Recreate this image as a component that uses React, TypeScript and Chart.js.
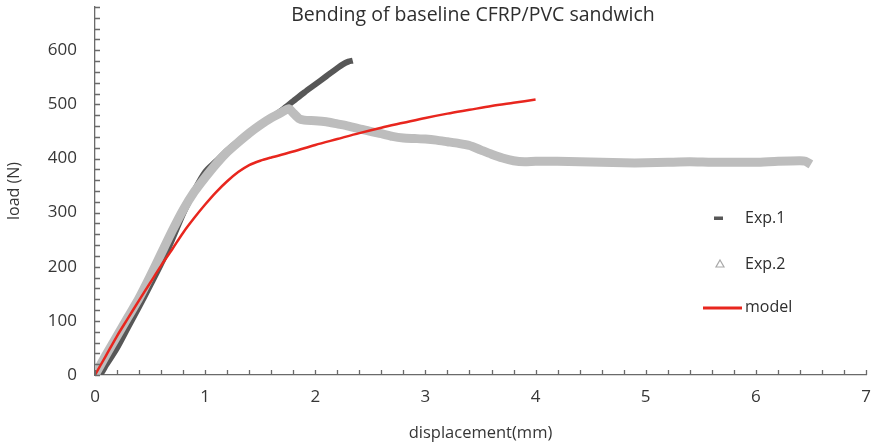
import React, { useEffect, useRef } from "react";
import { Chart, registerables } from "chart.js";

Chart.register(...registerables);

// ---- data ----
const exp1X = [0, 0.05, 0.1, 0.2, 0.3, 0.4, 0.5, 0.6, 0.7, 0.8, 0.9, 1.0, 1.1, 1.2, 1.3, 1.4, 1.5, 1.6, 1.7, 1.8, 1.9, 2.0, 2.1, 2.2, 2.25, 2.3, 2.34];
const exp1Y = [0, 2, 18, 50, 88, 126, 165, 205, 250, 298, 340, 375, 395, 415, 432, 448, 462, 475, 490, 506, 522, 537, 552, 567, 574, 579, 581];

const exp2X = [0, 0.1, 0.2, 0.3, 0.4, 0.5, 0.6, 0.7, 0.8, 0.9, 1.0, 1.1, 1.2, 1.3, 1.4, 1.5, 1.6, 1.7, 1.76, 1.8, 1.85, 1.9, 2.0, 2.1, 2.2, 2.3, 2.4, 2.5, 2.6, 2.7, 2.8, 2.9, 3.0, 3.1, 3.2, 3.3, 3.4, 3.5, 3.6, 3.7, 3.8, 3.9, 4.0, 4.2, 4.4, 4.6, 4.8, 5.0, 5.2, 5.4, 5.6, 5.8, 6.0, 6.2, 6.4, 6.45, 6.5];
const exp2Y = [0, 37, 72, 107, 142, 182, 224, 266, 305, 338, 365, 390, 412, 430, 447, 462, 475, 486, 492, 484, 474, 471, 470, 468, 464, 460, 455, 450, 446, 441, 438, 437, 436, 434, 431, 428, 424, 416, 408, 401, 396, 394, 395, 395, 394, 393, 392, 392, 393, 394, 393, 393, 393, 395, 396, 395, 389];

const modelX = [0, 0.1, 0.2, 0.3, 0.4, 0.5, 0.6, 0.7, 0.8, 0.9, 1.0, 1.1, 1.2, 1.3, 1.4, 1.5, 1.6, 1.8, 2.0, 2.2, 2.4, 2.6, 2.8, 3.0, 3.2, 3.4, 3.6, 3.8, 4.0];
const modelY = [0, 36, 72, 105, 138, 170, 202, 232, 263, 290, 315, 338, 358, 375, 388, 396, 402, 413, 425, 436, 447, 457, 466, 475, 483, 490, 497, 503, 509];

const seriesLabels = ["Exp.1", "Exp.2", "model"];
const titleText = "Bending of baseline CFRP/PVC sandwich";
const xTitleText = "displacement(mm)";
const yTitleText = "load (N)";

const xMin = 0, xMax = 7, xStep = 0.2;
const yMin = 0, yMax = 680, yStep = 20, yLabelStep = 100;

const FONT = "'Open Sans'";
const TEXT = "#363636";
const AXIS = "#6a6a6a";

function pts(xs: number[], ys: number[]) {
  return xs.map((x, i) => ({ x, y: ys[i] }));
}

const innerTicks = {
  id: "innerTicks",
  afterDraw(chart: any) {
    const ctx = chart.ctx;
    const { x, y } = chart.scales;
    ctx.save();
    ctx.strokeStyle = AXIS;
    ctx.lineWidth = 1.3;
    ctx.beginPath();
    x.ticks.forEach((t: any) => {
      const px = Math.round(x.getPixelForValue(t.value)) + 0.5;
      ctx.moveTo(px, x.top);
      ctx.lineTo(px, x.top - 5);
    });
    y.ticks.forEach((t: any) => {
      const py = Math.round(y.getPixelForValue(t.value)) + 0.5;
      ctx.moveTo(y.right, py);
      ctx.lineTo(y.right + 5, py);
    });
    ctx.stroke();
    ctx.restore();
  },
};

const titleAndLegend = {
  id: "titleAndLegend",
  afterDraw(chart: any) {
    const ctx = chart.ctx;
    ctx.save();
    ctx.fillStyle = "#2e2e2e";
    ctx.font = `19.5px ${FONT}`;
    ctx.textAlign = "center";
    ctx.textBaseline = "middle";
    ctx.fillText(titleText, 473, 15);

    const items = chart.data.datasets;
    const lx = 745;
    const ys = [218, 264, 307];
    ctx.font = `16px ${FONT}`;
    ctx.textAlign = "left";
    items.forEach((ds: any, i: number) => {
      const yy = ys[i];
      ctx.fillStyle = "#2e2e2e";
      ctx.fillText(ds.label, lx, yy);
      if (i === 0) {
        ctx.fillStyle = ds.borderColor;
        ctx.fillRect(714, yy - 1.5, 9, 3.5);
      } else if (i === 1) {
        ctx.strokeStyle = "#a8a8a8";
        ctx.lineWidth = 1.2;
        ctx.beginPath();
        ctx.moveTo(720, yy - 4);
        ctx.lineTo(724, yy + 3);
        ctx.lineTo(716, yy + 3);
        ctx.closePath();
        ctx.stroke();
      } else {
        ctx.strokeStyle = ds.borderColor;
        ctx.lineWidth = 3;
        ctx.beginPath();
        ctx.moveTo(703, yy + 1);
        ctx.lineTo(742, yy + 1);
        ctx.stroke();
      }
    });
    ctx.restore();
  },
};

export default function App() {
  const ref = useRef<HTMLCanvasElement | null>(null);
  useEffect(() => {
    if (!ref.current) return;
    const chart = new Chart(ref.current, {
      type: "line",
      data: {
        datasets: [
          {
            label: seriesLabels[0],
            data: pts(exp1X, exp1Y),
            borderColor: "#575757",
            borderWidth: 6,
            pointRadius: 0,
            tension: 0.3,
            order: 2,
          },
          {
            label: seriesLabels[1],
            data: pts(exp2X, exp2Y),
            borderColor: "#bdbdbd",
            borderWidth: 9,
            pointRadius: 0,
            tension: 0.2,
            order: 1,
          },
          {
            label: seriesLabels[2],
            data: pts(modelX, modelY),
            borderColor: "#e8261e",
            borderWidth: 2.5,
            pointRadius: 0,
            tension: 0.3,
            order: 0,
          },
        ],
      },
      options: {
        responsive: false,
        animation: false,
        devicePixelRatio: 1,
        layout: { padding: { top: 7, right: 10, left: 0, bottom: 0 } },
        plugins: { legend: { display: false }, tooltip: { enabled: false }, title: { display: false } },
        scales: {
          x: {
            type: "linear",
            min: xMin,
            max: xMax,
            grid: { display: false, drawTicks: false },
            border: { display: true, color: AXIS, width: 1.3 },
            ticks: {
              stepSize: xStep,
              autoSkip: false,
              maxRotation: 0,
              padding: 12,
              color: TEXT,
              font: { family: FONT, size: 17 },
              callback: (v: any) => (Math.abs(v - Math.round(v)) < 1e-6 ? String(Math.round(v)) : ""),
            },
            title: {
              display: true,
              text: xTitleText,
              color: TEXT,
              font: { family: FONT, size: 16.5 },
              padding: { top: 0, bottom: 1 },
            },
            afterFit: (s: any) => {
              s.height = 69;
              s.paddingLeft = 0;
              s.paddingRight = 0;
            },
          },
          y: {
            type: "linear",
            min: yMin,
            max: yMax,
            grid: { display: false, drawTicks: false },
            border: { display: true, color: AXIS, width: 1.3 },
            ticks: {
              stepSize: yStep,
              autoSkip: false,
              padding: 18,
              color: TEXT,
              font: { family: FONT, size: 17 },
              callback: (v: any) => (Math.round(v) % yLabelStep === 0 ? String(Math.round(v)) : ""),
            },
            title: {
              display: true,
              text: yTitleText,
              color: TEXT,
              font: { family: FONT, size: 16 },
              padding: { top: 5, bottom: 0 },
            },
            afterFit: (s: any) => {
              s.width = 95;
              s.paddingTop = 0;
              s.paddingBottom = 0;
            },
          },
        },
      },
      plugins: [innerTicks, titleAndLegend],
    });
    return () => chart.destroy();
  }, []);

  return (
    <div style={{ position: "absolute", left: 0, top: 0, width: 876, height: 444, background: "#fff" }}>
      <canvas ref={ref} width={876} height={444} style={{ width: 876, height: 444 }} />
    </div>
  );
}
